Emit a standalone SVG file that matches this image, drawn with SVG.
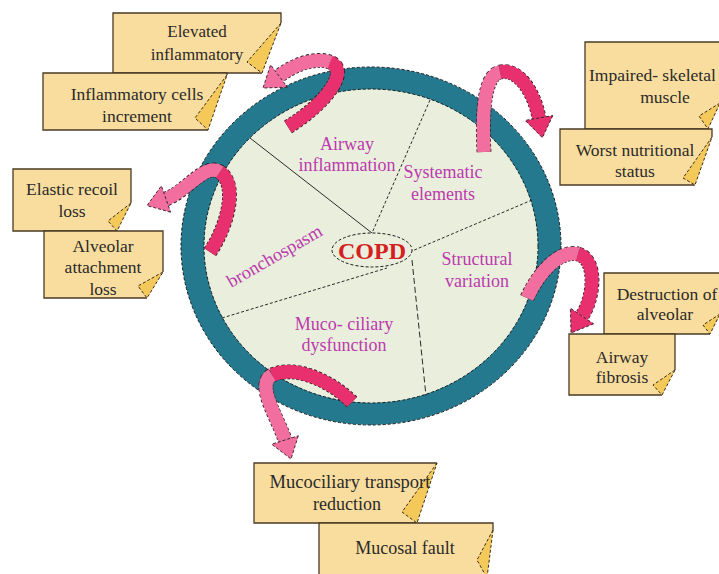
<svg xmlns="http://www.w3.org/2000/svg" width="719" height="574" viewBox="0 0 719 574">
<style>
.bx{fill:#F9DD9E}
.bd{fill:none;stroke:#4a3b26;stroke-width:1.3}
.fl{fill:#F4C95A;stroke:#3a2e1c;stroke-width:1;stroke-dasharray:3 2}
.dv{stroke:#2a2a2a;stroke-width:1;fill:none}
.dsh{stroke-dasharray:3 2}
.ol{fill:none;stroke:#2a1a20;stroke-width:14.8;stroke-dasharray:3 2}
.dk{fill:none;stroke:#E8306E;stroke-width:13.4}
.lt{fill:none;stroke:#F26E9E;stroke-width:13.4}
.hd{stroke:#2a1a20;stroke-width:0.9;stroke-dasharray:3 2}
</style>
<rect x="0" y="0" width="719" height="574" fill="#ffffff"/>

<g id="copd-ring">
  <ellipse cx="371" cy="246" rx="190" ry="179" fill="#24798E" stroke="#1a1a1a" stroke-width="1" stroke-dasharray="3 2"/>
  <ellipse cx="371" cy="246" rx="167" ry="157" fill="#E9EFDC" stroke="#1a1a1a" stroke-width="1" stroke-dasharray="3 2"/>
  <line class="dv" x1="250" y1="138" x2="372" y2="233"/>
  <line class="dv dsh" x1="430" y1="100" x2="372" y2="233"/>
  <line class="dv dsh" x1="532" y1="200" x2="412" y2="251"/>
  <line class="dv" stroke-dasharray="6 3" x1="412" y1="260" x2="426" y2="396"/>
  <line class="dv dsh" x1="222" y1="318" x2="387" y2="268"/>
</g>

<g id="copd">
  <ellipse cx="372" cy="250" rx="40" ry="17" fill="#E9EFDC" stroke="#1a1a1a" stroke-width="1" stroke-dasharray="3 2"/>
  <text x="372" y="259" font-family="'Liberation Serif','Times New Roman',serif" font-size="24" font-weight="bold" fill="#D42020" text-anchor="middle">COPD</text>
</g>

<g id="label-airway-inflammation">
  <text x="347" y="150" font-family="'Liberation Serif','Times New Roman',serif" font-size="18" fill="#BC3AAE" text-anchor="middle">Airway</text>
  <text x="347" y="171" font-family="'Liberation Serif','Times New Roman',serif" font-size="18" fill="#BC3AAE" text-anchor="middle">inflammation</text>
</g>
<g id="label-systematic-elements">
  <text x="443" y="178" font-family="'Liberation Serif','Times New Roman',serif" font-size="18" fill="#BC3AAE" text-anchor="middle">Systematic</text>
  <text x="443" y="200" font-family="'Liberation Serif','Times New Roman',serif" font-size="18" fill="#BC3AAE" text-anchor="middle">elements</text>
</g>
<g id="label-structural-variation">
  <text x="477" y="265" font-family="'Liberation Serif','Times New Roman',serif" font-size="18" fill="#BC3AAE" text-anchor="middle">Structural</text>
  <text x="477" y="287" font-family="'Liberation Serif','Times New Roman',serif" font-size="18" fill="#BC3AAE" text-anchor="middle">variation</text>
</g>
<g id="label-mucociliary-dysfunction">
  <text x="344" y="330" font-family="'Liberation Serif','Times New Roman',serif" font-size="18" fill="#BC3AAE" text-anchor="middle">Muco- ciliary</text>
  <text x="344" y="351" font-family="'Liberation Serif','Times New Roman',serif" font-size="18" fill="#BC3AAE" text-anchor="middle">dysfunction</text>
</g>
<g id="label-bronchospasm">
  <text x="275" y="262" transform="rotate(-30 275 257)" font-family="'Liberation Serif','Times New Roman',serif" font-size="18.5" fill="#BC3AAE" text-anchor="middle">bronchospasm</text>
</g>

<g id="box-elevated-inflammatory">
  <path class="bx" d="M113,13 H281 V23 L262,73 H113 Z"/>
  <path class="bd" d="M281,23 V13 H113 V73 H262"/>
  <path class="fl" d="M281,23 L247,62 L262,73 Z"/>
  <text x="197" y="37" font-family="'Liberation Serif','Times New Roman',serif" font-size="17" fill="#2a2a2a" text-anchor="middle">Elevated</text>
  <text x="197" y="60" font-family="'Liberation Serif','Times New Roman',serif" font-size="17" fill="#2a2a2a" text-anchor="middle">inflammatory</text>
</g>
<g id="box-inflammatory-cells">
  <path class="bx" d="M43,73 H227 V75 L208,130 H43 Z"/>
  <path class="bd" d="M227,75 V73 H43 V130 H208"/>
  <path class="fl" d="M227,75 L195,118 L208,130 Z"/>
  <text x="137" y="100" font-family="'Liberation Serif','Times New Roman',serif" font-size="17.5" fill="#2a2a2a" text-anchor="middle">Inflammatory cells</text>
  <text x="137" y="122" font-family="'Liberation Serif','Times New Roman',serif" font-size="17.5" fill="#2a2a2a" text-anchor="middle">increment</text>
</g>

<g id="box-impaired-skeletal">
  <path class="bx" d="M585,42 H722 V100 L708,129 H585 Z"/>
  <path class="bd" d="M722,100 V42 H585 V129 H708"/>
  <path class="fl" d="M720,103 L699,116 L708,129 Z"/>
  <text x="589" y="81" font-family="'Liberation Serif','Times New Roman',serif" font-size="17.5" fill="#2a2a2a" text-anchor="start">Impaired- skeletal</text>
  <text x="665" y="103" font-family="'Liberation Serif','Times New Roman',serif" font-size="17.5" fill="#2a2a2a" text-anchor="middle">muscle</text>
</g>
<g id="box-worst-nutritional">
  <path class="bx" d="M560,129 H712 V137 L695,185 H560 Z"/>
  <path class="bd" d="M712,137 V129 H560 V185 H695"/>
  <path class="fl" d="M712,137 L683,178 L695,185 Z"/>
  <text x="635" y="156" font-family="'Liberation Serif','Times New Roman',serif" font-size="17.5" fill="#2a2a2a" text-anchor="middle">Worst nutritional</text>
  <text x="635" y="177" font-family="'Liberation Serif','Times New Roman',serif" font-size="17.5" fill="#2a2a2a" text-anchor="middle">status</text>
</g>

<g id="box-elastic-recoil">
  <path class="bx" d="M13,169 H131 V203 L117,231 H13 Z"/>
  <path class="bd" d="M131,203 V169 H13 V231 H117"/>
  <path class="fl" d="M131,203 L108,221 L117,231 Z"/>
  <text x="72" y="195" font-family="'Liberation Serif','Times New Roman',serif" font-size="17.5" fill="#2a2a2a" text-anchor="middle">Elastic recoil</text>
  <text x="72" y="217" font-family="'Liberation Serif','Times New Roman',serif" font-size="17.5" fill="#2a2a2a" text-anchor="middle">loss</text>
</g>
<g id="box-alveolar-attachment">
  <path class="bx" d="M44,231 H163 V272 L147,298 H44 Z"/>
  <path class="bd" d="M163,272 V231 H44 V298 H147"/>
  <path class="fl" d="M163,272 L138,286 L147,298 Z"/>
  <text x="103" y="252" font-family="'Liberation Serif','Times New Roman',serif" font-size="17.5" fill="#2a2a2a" text-anchor="middle">Alveolar</text>
  <text x="103" y="273" font-family="'Liberation Serif','Times New Roman',serif" font-size="17.5" fill="#2a2a2a" text-anchor="middle">attachment</text>
  <text x="103" y="295" font-family="'Liberation Serif','Times New Roman',serif" font-size="17.5" fill="#2a2a2a" text-anchor="middle">loss</text>
</g>

<g id="box-destruction-alveolar">
  <path class="bx" d="M604,273 H722 V312 L710,334 H604 Z"/>
  <path class="bd" d="M722,312 V273 H604 V334 H710"/>
  <path class="fl" d="M720,314 L703,325 L710,334 Z"/>
  <text x="667" y="300" font-family="'Liberation Serif','Times New Roman',serif" font-size="17.5" fill="#2a2a2a" text-anchor="middle">Destruction of</text>
  <text x="665" y="320" font-family="'Liberation Serif','Times New Roman',serif" font-size="17.5" fill="#2a2a2a" text-anchor="middle">alveolar</text>
</g>
<g id="box-airway-fibrosis">
  <path class="bx" d="M569,334 H675 V370 L662,395 H569 Z"/>
  <path class="bd" d="M675,370 V334 H569 V395 H662"/>
  <path class="fl" d="M675,370 L653,385 L662,395 Z"/>
  <text x="622" y="363" font-family="'Liberation Serif','Times New Roman',serif" font-size="17.5" fill="#2a2a2a" text-anchor="middle">Airway</text>
  <text x="622" y="383" font-family="'Liberation Serif','Times New Roman',serif" font-size="17.5" fill="#2a2a2a" text-anchor="middle">fibrosis</text>
</g>

<g id="box-mucociliary-transport">
  <path class="bx" d="M254,463 H437 L417,523 H254 Z"/>
  <path class="bd" d="M437,463 H254 V523 H417"/>
  <path class="fl" d="M437,463 L402,512 L417,523 Z"/>
  <text x="350" y="488" font-family="'Liberation Serif','Times New Roman',serif" font-size="18.5" fill="#2a2a2a" text-anchor="middle">Mucociliary transport</text>
  <text x="347" y="510" font-family="'Liberation Serif','Times New Roman',serif" font-size="18" fill="#2a2a2a" text-anchor="middle">reduction</text>
</g>
<g id="box-mucosal-fault">
  <path class="bx" d="M319,523 H493 V530 L487,578 H319 Z"/>
  <path class="bd" d="M493,530 V523 H319 V578"/>
  <path class="fl" d="M493,530 L477,560 L487,578 Z"/>
  <text x="405" y="554" font-family="'Liberation Serif','Times New Roman',serif" font-size="18" fill="#2a2a2a" text-anchor="middle">Mucosal fault</text>
</g>

<g id="connectors">
  <g id="arrow-airway">
    <path class="ol" d="M288,127 C328,102 350,70 330,62"/>
    <path class="ol" d="M330,62 C315,57 295,64 279,76"/>
    <path class="dk" d="M288,127 C328,102 350,70 330,62"/>
    <path class="lt" d="M330,62 C315,57 295,64 279,76"/>
    <polygon class="hd" fill="#F26E9E" points="287.4,87.2 263,88 270.6,64.8"/>
  </g>
  <g id="arrow-systematic">
    <path class="ol" d="M484,152 C482,112 484,76 500,72"/>
    <path class="ol" d="M500,72 C520,68 535,95 539,118"/>
    <path class="lt" d="M484,152 C482,112 484,76 500,72"/>
    <path class="dk" d="M500,72 C520,68 535,95 539,118"/>
    <polygon class="hd" fill="#E8306E" points="552.8,115.6 542.4,137.7 525.2,120.4"/>
  </g>
  <g id="arrow-bronchospasm">
    <path class="ol" d="M210,252 C228,225 238,185 220,172"/>
    <path class="ol" d="M220,172 C205,162 186,192 166,199"/>
    <path class="dk" d="M210,252 C228,225 238,185 220,172"/>
    <path class="lt" d="M220,172 C205,162 186,192 166,199"/>
    <polygon class="hd" fill="#F26E9E" points="170.6,212.2 147,205.6 161.4,185.8"/>
  </g>
  <g id="arrow-structural">
    <path class="ol" d="M527,298 C540,270 560,250 578,254"/>
    <path class="ol" d="M578,254 C598,260 594,298 582,316"/>
    <path class="lt" d="M527,298 C540,270 560,250 578,254"/>
    <path class="dk" d="M578,254 C598,260 594,298 582,316"/>
    <polygon class="hd" fill="#E8306E" points="593.6,323.8 571,333 570.4,308.2"/>
  </g>
  <g id="arrow-mucociliary">
    <path class="ol" d="M352,402 C330,380 295,365 272,375"/>
    <path class="ol" d="M272,375 C255,385 278,418 285,440"/>
    <path class="dk" d="M352,402 C330,380 295,365 272,375"/>
    <path class="lt" d="M272,375 C255,385 278,418 285,440"/>
    <polygon class="hd" fill="#F26E9E" points="298.3,435.8 291,459 271.7,444.2"/>
  </g>
</g>
</svg>
